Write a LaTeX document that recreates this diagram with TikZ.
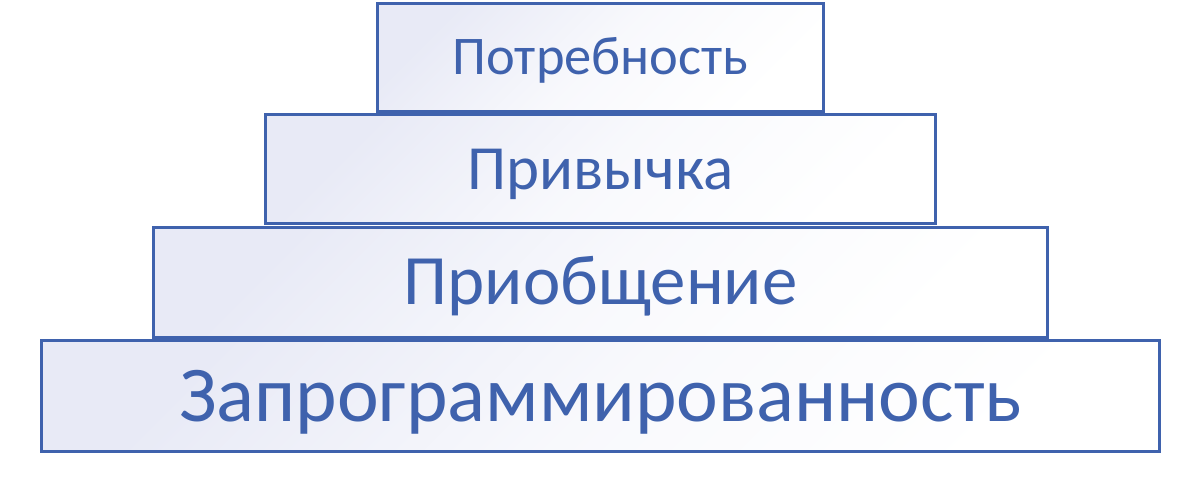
\documentclass[tikz,border=0pt]{standalone}
\usepackage{fontspec}
\setmainfont{Carlito}
\usetikzlibrary{positioning}
\definecolor{stepblue}{RGB}{63,98,173}
\definecolor{lavender}{RGB}{232,234,246}

\begin{document}
\begin{tikzpicture}[node distance = 0.01cm,
  level/.style = {draw=stepblue, line width=1.7pt, text=stepblue,
    top color=lavender, bottom color=white, middle color=white!70!lavender,
    shading angle=45, inner sep=0pt, minimum height=2.16cm,
    font=\fontsize{#1}{#1}\selectfont, text height=0.632*#1pt, text depth=0pt}
  ]
  \useasboundingbox (0,0) rectangle (24,9.6);
  \node (need) [level=31, minimum width=8.92cm] at (12.01,8.45) {Потребность};
  \node (habit) [level=35.8, minimum width=13.4cm, minimum height=2.18cm,
    below=of need] {Привычка};
  \node (join) [level=40.3, minimum width=17.88cm, minimum height=2.2cm,
    below=of habit] {Приобщение};
  \node (prog) [level=45, minimum width=22.36cm, minimum height=2.22cm,
    below=of join] {Запрограммированность};
\end{tikzpicture}
\end{document}
